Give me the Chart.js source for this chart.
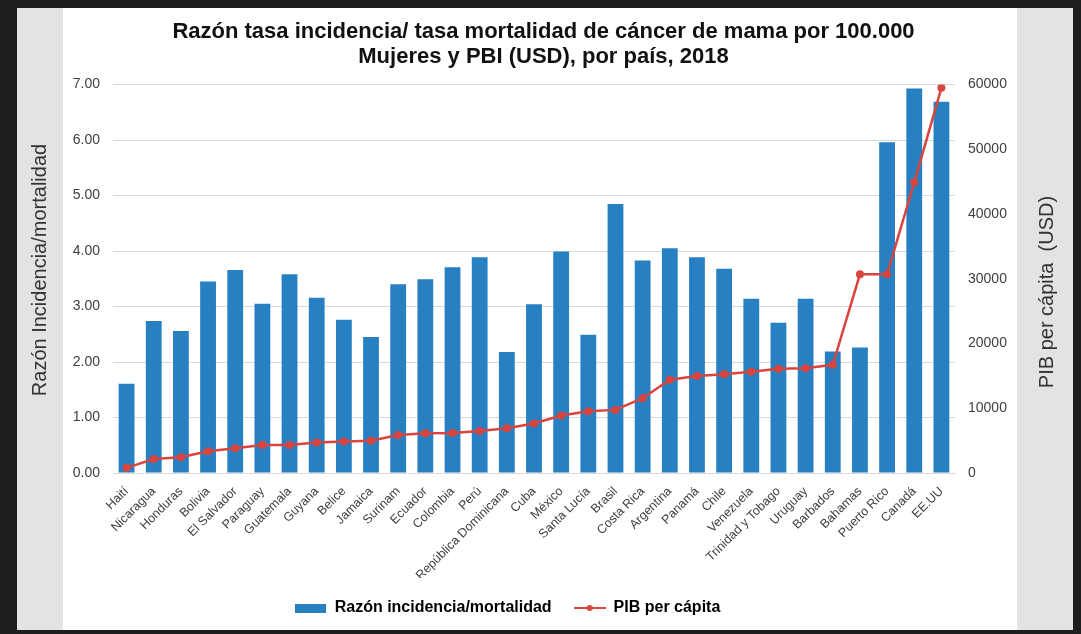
<!DOCTYPE html>
<html>
<head>
<meta charset="utf-8">
<script src="https://cdn.jsdelivr.net/npm/chart.js@4/dist/chart.umd.min.js"></script>
<style>
  html, body { margin: 0; padding: 0; background: #1e1e1e; }
  #frame {
    position: absolute; left: 17px; top: 8px; width: 1056px; height: 622px;
    background: linear-gradient(to right, #e3e3e3 0px, #e3e3e3 46px, #ffffff 46px, #ffffff 1000px, #e3e3e3 1000px);
  }
  #wrap { position: absolute; left: 0; top: 0; width: 1081px; height: 634px; }
</style>
</head>
<body>
<div id="frame"></div>
<div id="wrap"><canvas id="chart"></canvas></div>
<script>
	// Countries (x axis)
	var paises = ['Haití', 'Nicaragua', 'Honduras', 'Bolivia', 'El Salvador', 'Paraguay', 'Guatemala',
		'Guyana', 'Belice', 'Jamaica', 'Surinam', 'Ecuador', 'Colombia', 'Perú', 'República Dominicana',
		'Cuba', 'México', 'Santa Lucía', 'Brasil', 'Costa Rica', 'Argentina', 'Panamá', 'Chile',
		'Venezuela', 'Trinidad y Tobago', 'Uruguay', 'Barbados', 'Bahamas', 'Puerto Rico', 'Canadá', 'EE.UU'];

	// Razón incidencia/mortalidad (left axis)
	var razon = [1.61, 2.74, 2.56, 3.45, 3.66, 3.05, 3.58, 3.16, 2.76, 2.45, 3.40, 3.49, 3.71, 3.89, 2.18,
		3.04, 3.99, 2.49, 4.85, 3.83, 4.05, 3.89, 3.68, 3.14, 2.71, 3.14, 2.19, 2.26, 5.96, 6.93, 6.69];

	// PIB per cápita USD (right axis)
	var pib = [800, 2170, 2420, 3350, 3820, 4330, 4330, 4700, 4850, 5000, 5880, 6140, 6190, 6500, 6910,
		7640, 8880, 9550, 9750, 11560, 14400, 15000, 15270, 15630, 16100, 16200, 16720, 30700, 30700, 44900, 59500];

	// Tick labels
	var ticksIzq = [0, 1, 2, 3, 4, 5, 6, 7];
	var ticksDer = [0, 10000, 20000, 30000, 40000, 50000, 60000];

	var azul = '#2680c2';
	var rojo = '#d9453e';
	var fuente = "'Liberation Sans', Arial, sans-serif";

	//Legend symbols drawn on small canvases
	function simboloBarra()
	{
		var c = document.createElement('canvas');
		c.width = 31; c.height = 9;
		var g = c.getContext('2d');
		g.fillStyle = azul;
		g.fillRect(0, 0, 31, 9);
		return c;
	}

	function simboloLinea()
	{
		var c = document.createElement('canvas');
		c.width = 32; c.height = 10;
		var g = c.getContext('2d');
		g.strokeStyle = rojo;
		g.lineWidth = 2;
		g.beginPath(); g.moveTo(0, 5); g.lineTo(32, 5); g.stroke();
		g.fillStyle = rojo;
		g.beginPath(); g.arc(16, 5, 3, 0, Math.PI * 2); g.fill();
		return c;
	}

	//Axis titles, both read bottom to top and sit on the grey side panels
	function tituloEje(c, texto, x, y)
	{
		c.save();
		c.translate(x, y);
		c.rotate(-Math.PI / 2);
		c.font = '20px ' + fuente;
		c.fillStyle = '#333';
		c.textAlign = 'center';
		c.textBaseline = 'middle';
		c.fillText(texto, 0, 0);
		c.restore();
	}

	var extras = {
		id: 'extras',
		afterLayout: function(chart)
		{
			// legend sits a bit left of centre in the original
			chart.legend.left -= 36;
			chart.legend.right -= 36;
		},
		afterDraw: function(chart)
		{
			tituloEje(chart.ctx, 'Razón Incidencia/mortalidad', 40, 270);
			tituloEje(chart.ctx, 'PIB per cápita  (USD)', 1047, 292);
		}
	};

	var ctx = document.getElementById('chart').getContext('2d');

	var grafico = new Chart(ctx, {
		type: 'bar',
		data: {
			labels: paises,
			datasets: [{
				label: 'Razón incidencia/mortalidad',
				data: razon,
				backgroundColor: azul,
				yAxisID: 'y',
				order: 1,
				barPercentage: 0.6,
				categoryPercentage: 0.97
			}, {
				type: 'line',
				label: 'PIB per cápita',
				data: pib,
				borderColor: rojo,
				backgroundColor: rojo,
				borderWidth: 2.5,
				pointRadius: 4,
				pointBackgroundColor: rojo,
				pointBorderWidth: 0,
				tension: 0,
				yAxisID: 'y1',
				order: 0
			}]
		},
		plugins: [extras],
		options: {
			responsive: true,
			maintainAspectRatio: false,
			animation: false,
			layout: {
				padding: { left: 24, right: 18, top: 0, bottom: 8 }
			},
			plugins: {
				title: {
					display: true,
					text: ['Razón tasa incidencia/ tasa mortalidad de cáncer de mama por 100.000',
						'Mujeres y PBI (USD), por país, 2018'],
					color: '#111',
					font: { family: fuente, size: 22, weight: 'bold', lineHeight: 1.15 },
					padding: { top: 19, bottom: 15 }
				},
				legend: {
					position: 'bottom',
					labels: {
						usePointStyle: true,
						pointStyleWidth: 32,
						padding: 22,
						color: '#222',
						font: { family: fuente, size: 16, weight: 'bold' },
						generateLabels: function(chart)
						{
							return [
								{ text: 'Razón incidencia/mortalidad', pointStyle: simboloBarra(), datasetIndex: 0, lineWidth: 0, fillStyle: azul, strokeStyle: azul },
								{ text: 'PIB per cápita', pointStyle: simboloLinea(), datasetIndex: 1, lineWidth: 0, fillStyle: rojo, strokeStyle: rojo }
							];
						}
					}
				},
				tooltip: { enabled: false }
			},
			scales: {
				x: {
					grid: { display: false },
					border: { color: '#d9d9d9' },
					ticks: {
						autoSkip: false,
						maxRotation: 45,
						minRotation: 45,
						padding: 3,
						color: '#404040',
						font: { family: fuente, size: 12.5 }
					},
					afterFit: function(scale) { scale.height = 105; }
				},
				y: {
					position: 'left',
					min: 0,
					max: 7,
					afterBuildTicks: function(scale) { scale.ticks = ticksIzq.map(function(v) { return { value: v }; }); },
					grid: { color: '#d9d9d9', drawTicks: false },
					border: { display: false },
					ticks: {
						padding: 13,
						color: '#404040',
						font: { family: fuente, size: 14 },
						callback: function(v) { return v.toFixed(2); }
					},
					afterFit: function(scale) { scale.width = 89; }
				},
				y1: {
					position: 'right',
					min: 0,
					max: 60000,
					afterBuildTicks: function(scale) { scale.ticks = ticksDer.map(function(v) { return { value: v }; }); },
					grid: { drawOnChartArea: false, drawTicks: false },
					border: { display: false },
					ticks: {
						padding: 13,
						color: '#404040',
						font: { family: fuente, size: 14 },
						callback: function(v) { return String(v); }
					},
					afterFit: function(scale) { scale.width = 108; }
				}
			}
		}
	});
</script>
</body>
</html>
